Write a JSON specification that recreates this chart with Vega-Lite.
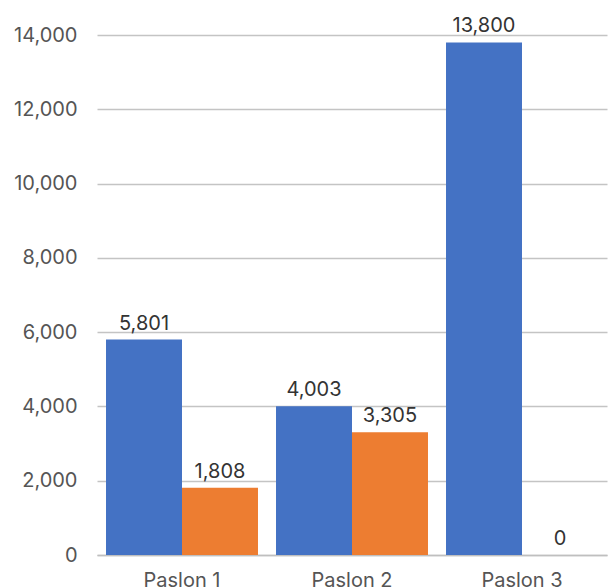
{
  "$schema": "https://vega.github.io/schema/vega-lite/v6.json",
  "width": 510,
  "height": 520,
  "autosize": {"type": "none"},
  "padding": {"left": 97, "top": 35, "right": 2, "bottom": 33},
  "config": {"view": {"stroke": null}, "font": "Inter"},
  "data": {"values": [
    {"paslon": "Paslon 1", "series": "A", "value": 5801},
    {"paslon": "Paslon 1", "series": "B", "value": 1808},
    {"paslon": "Paslon 2", "series": "A", "value": 4003},
    {"paslon": "Paslon 2", "series": "B", "value": 3305},
    {"paslon": "Paslon 3", "series": "A", "value": 13800},
    {"paslon": "Paslon 3", "series": "B", "value": 0}
  ]},
  "encoding": {
    "x": {"field": "paslon", "type": "nominal", "title": null,
      "scale": {"paddingInner": 0.106, "paddingOuter": 0.053},
      "axis": {"labelAngle": 0, "labelFontSize": 20, "labelColor": "#555555", "ticks": false, "domain": true, "domainColor": "#bfbfbf", "domainWidth": 1.5, "labelPadding": 15}},
    "xOffset": {"field": "series", "type": "nominal", "scale": {"paddingInner": 0, "paddingOuter": 0}},
    "y": {"field": "value", "type": "quantitative", "title": null,
      "scale": {"domain": [0, 14000], "nice": false},
      "axis": {"values": [0, 2000, 4000, 6000, 8000, 10000, 12000, 14000], "format": ",.0f", "labelFontSize": 20, "labelColor": "#555555", "ticks": false, "domain": false, "gridColor": "#c4c4c4", "gridWidth": 1.5, "labelPadding": 20}}
  },
  "layer": [
    {"mark": {"type": "bar"},
      "encoding": {"color": {"field": "series", "type": "nominal", "legend": null,
        "scale": {"domain": ["A", "B"], "range": ["#4472C4", "#ED7D31"]}}}},
    {"mark": {"type": "text", "baseline": "bottom", "dy": -6, "fontSize": 20, "color": "#333333"},
      "encoding": {"text": {"field": "value", "type": "quantitative", "format": ",.0f"}}}
  ]
}
